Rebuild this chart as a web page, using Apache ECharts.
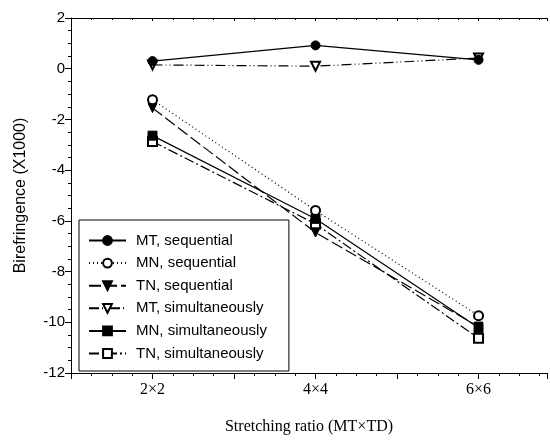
<!DOCTYPE html>
<html><head><meta charset="utf-8">
<script src="https://cdn.jsdelivr.net/npm/echarts@6/dist/echarts.min.js"></script>
<style>html,body{margin:0;padding:0;background:#fff}#c{width:550px;height:440px}</style>
</head><body><div id="c"></div>
<script>
const categories = ['2×2', '4×4', '6×6'];
const seriesNames = ['MT, sequential', 'MN, sequential', 'TN, sequential', 'MT, simultaneously', 'MN, simultaneously', 'TN, simultaneously'];
const mtSequential = [0.30, 0.92, 0.35];
const mnSequential = [-1.22, -5.59, -9.74];
const tnSequential = [-1.55, -6.46, -10.17];
const mtSimultaneously = [0.15, 0.10, 0.42];
const mnSimultaneously = [-2.64, -5.92, -10.22];
const tnSimultaneously = [-2.87, -6.12, -10.63];
const yTicks = [-12, -10, -8, -6, -4, -2, 0, 2];

const values = [mtSequential, mnSequential, tnSequential, mtSimultaneously, mnSimultaneously, tnSimultaneously];
const styles = [
  {symbol: 'circle', rotate: 0, type: 'solid'},
  {symbol: 'emptyCircle', rotate: 0, type: [1, 3]},
  {symbol: 'triangle', rotate: 180, type: [12, 4]},
  {symbol: 'emptyTriangle', rotate: 180, type: [10, 3, 1, 3, 1, 3]},
  {symbol: 'rect', rotate: 0, type: 'solid'},
  {symbol: 'emptyRect', rotate: 0, type: [10, 3, 2, 3]}
];
const series = values.map((v, i) => ({
  name: seriesNames[i],
  type: 'line',
  data: v.map((y, j) => [j + 1, y]),
  symbol: styles[i].symbol,
  symbolRotate: styles[i].rotate,
  symbolSize: 9,
  itemStyle: {color: '#000', borderColor: '#000', borderWidth: 1},
  lineStyle: {color: '#000', width: 1.2, type: styles[i].type},
  emphasis: {disabled: true},
  animation: false,
  z: 10 - i
}));

const chart = echarts.init(document.getElementById('c'), null, {renderer: 'canvas'});
chart.setOption({
  backgroundColor: '#fff',
  animation: false,
  grid: {left: 71, top: 18, right: 0, bottom: 62},
  legend: {
    orient: 'vertical', left: 79, top: 220,
    data: seriesNames,
    borderColor: '#000', borderWidth: 1,
    padding: [13, 22, 10, 9],
    itemWidth: 37, itemHeight: 11, itemGap: 7.6,
    textStyle: {fontFamily: 'Liberation Sans', fontSize: 15, lineHeight: 14, color: '#000', padding: [0, 0, 0, 5]},
    inactiveColor: '#000',
    backgroundColor: '#fff',
    selectedMode: false
  },
  xAxis: [{
    type: 'value', min: 0.5, max: 3.42, interval: 0.5,
    axisLine: {onZero: false, lineStyle: {color: '#000', width: 1}},
    axisTick: {show: true, length: 6, inside: false, lineStyle: {color: '#000'}},
    minorTick: {show: true, splitNumber: 4, length: 3, lineStyle: {color: '#000'}},
    splitLine: {show: false},
    axisLabel: {
      fontFamily: 'Liberation Serif', fontSize: 16, color: '#000', margin: 9,
      formatter: v => (Number.isInteger(v) && v >= 1 && v <= categories.length) ? categories[v - 1] : ''
    },
    name: 'Stretching ratio (MT×TD)', nameLocation: 'middle', nameGap: 46,
    nameTextStyle: {fontFamily: 'Liberation Serif', fontSize: 16, color: '#000'}
  }, {
    type: 'value', position: 'top', min: 0.5, max: 3.42, interval: 0.5,
    axisLine: {show: true, onZero: false, lineStyle: {color: '#000', width: 1}},
    axisTick: {show: true, inside: true, length: 3, lineStyle: {color: '#000'}},
    minorTick: {show: true, splitNumber: 4, length: 2, lineStyle: {color: '#000'}},
    splitLine: {show: false}, axisLabel: {show: false}
  }],
  yAxis: {
    type: 'value', min: yTicks[0], max: yTicks[yTicks.length - 1], interval: 2,
    axisLine: {show: true, onZero: false, lineStyle: {color: '#000', width: 1}},
    axisTick: {show: true, length: 6, lineStyle: {color: '#000'}},
    minorTick: {show: true, splitNumber: 4, length: 3, lineStyle: {color: '#000'}},
    splitLine: {show: false},
    axisLabel: {fontFamily: 'Liberation Sans', fontSize: 15, color: '#000', margin: 6},
    name: 'Birefringence (X1000)', nameLocation: 'middle', nameGap: 42, nameRotate: 90,
    nameTextStyle: {fontFamily: 'Liberation Sans', fontSize: 16, color: '#000'}
  },
  series: series
});
</script></body></html>
